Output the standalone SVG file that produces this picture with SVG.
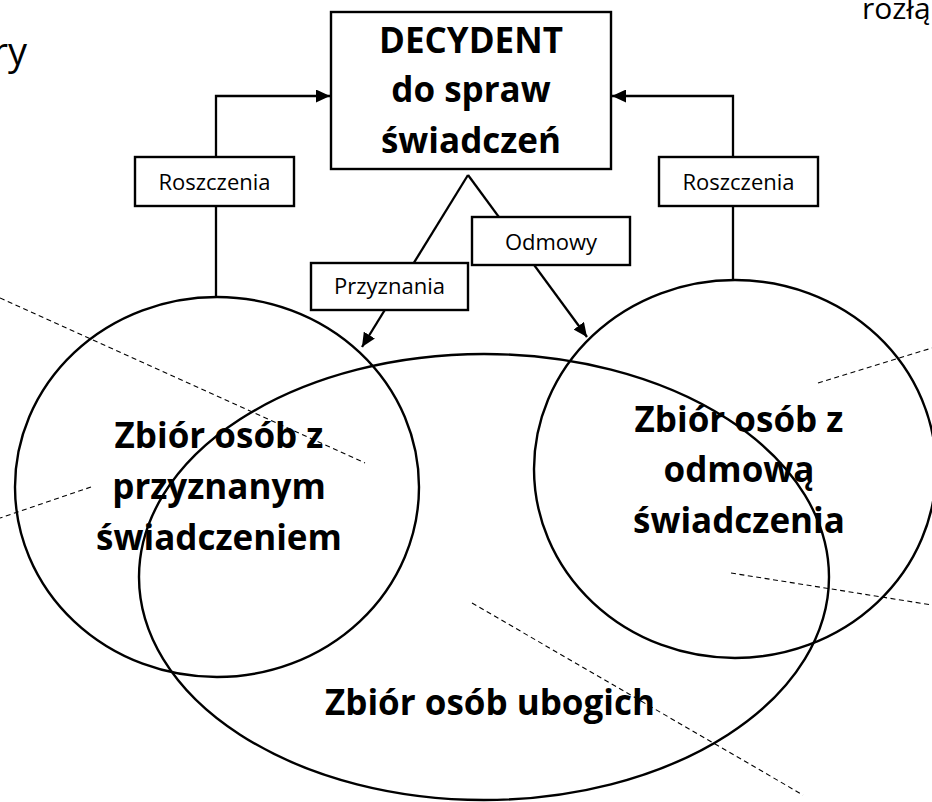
<svg xmlns="http://www.w3.org/2000/svg" width="932" height="802" viewBox="0 0 932 802">
<style>
  .ln{fill:none;stroke:#000;stroke-width:2.3}
  .dash{fill:none;stroke:#000;stroke-width:1.1;stroke-dasharray:5 3.5}
  .box{fill:#fff;stroke:#000;stroke-width:2.4}
  .set{fill:none;stroke:#000;stroke-width:2.4}
  .lbl{font-family:"Open Sans","Liberation Sans",sans-serif;font-size:22px;fill:#000;text-anchor:middle}
  .big{font-family:"Open Sans","Liberation Sans",sans-serif;font-size:35px;font-weight:bold;fill:#000;text-anchor:middle}
  .edge{font-family:"Open Sans","Liberation Sans",sans-serif;fill:#000}
</style>
<defs>
  <marker id="ah" viewBox="0 0 14 13" markerWidth="14" markerHeight="13" refX="14" refY="6.5" orient="auto" markerUnits="userSpaceOnUse">
    <path d="M0,0 L14,6.5 L0,13 Z" fill="#000"/>
  </marker>
</defs>
<rect width="932" height="802" fill="#fff"/>

<text class="edge" x="27" y="65" font-size="38" text-anchor="end">ry</text>
<text class="edge" x="862" y="19" font-size="30">rozłą</text>

<g id="sets">
  <ellipse id="set-przyznane" class="set" cx="217" cy="487" rx="202" ry="190"/>
  <ellipse id="set-ubodzy" class="set" cx="484" cy="577" rx="345" ry="223"/>
  <ellipse id="set-odmowa" class="set" cx="735" cy="469" rx="201" ry="189"/>
</g>

<g id="dashed-lines">
  <line class="dash" x1="0" y1="298" x2="365" y2="463"/>
  <line class="dash" x1="91" y1="487" x2="0" y2="518"/>
  <line class="dash" x1="818" y1="383" x2="932" y2="348"/>
  <line class="dash" x1="731" y1="573" x2="932" y2="605"/>
  <line class="dash" x1="472" y1="603" x2="803" y2="795"/>
</g>

<g id="connectors">
  <path class="ln" d="M216,297 V96 H330" marker-end="url(#ah)"/>
  <path class="ln" d="M733,280 V96 H612" marker-end="url(#ah)"/>
  <line class="ln" x1="468" y1="175" x2="362" y2="347" marker-end="url(#ah)"/>
  <line class="ln" x1="468" y1="175" x2="587" y2="337" marker-end="url(#ah)"/>
</g>

<g id="decydent">
  <rect class="box" x="331" y="12" width="280" height="157"/>
  <text class="big" x="471" y="53">DECYDENT</text>
  <text class="big" x="471" y="102">do spraw</text>
  <text class="big" x="471" y="153">świadczeń</text>
</g>

<g id="roszczenia-left">
  <rect class="box" x="135" y="157" width="159" height="49"/>
  <text class="lbl" x="214.5" y="190">Roszczenia</text>
</g>

<g id="roszczenia-right">
  <rect class="box" x="659" y="157" width="159" height="49"/>
  <text class="lbl" x="738.5" y="190">Roszczenia</text>
</g>

<g id="przyznania">
  <rect class="box" x="311" y="263" width="157" height="47"/>
  <text class="lbl" x="389.5" y="294">Przyznania</text>
</g>

<g id="odmowy">
  <rect class="box" x="472" y="217" width="158" height="48"/>
  <text class="lbl" x="551" y="250">Odmowy</text>
</g>

<g id="label-przyznane">
  <text class="big" x="219" y="448">Zbiór osób z</text>
  <text class="big" x="219" y="499">przyznanym</text>
  <text class="big" x="219" y="550">świadczeniem</text>
</g>

<g id="label-odmowa">
  <text class="big" x="739" y="432">Zbiór osób z</text>
  <text class="big" x="739" y="482">odmową</text>
  <text class="big" x="739" y="533">świadczenia</text>
</g>

<g id="label-ubodzy">
  <text class="big" x="490" y="715">Zbiór osób ubogich</text>
</g>
</svg>
